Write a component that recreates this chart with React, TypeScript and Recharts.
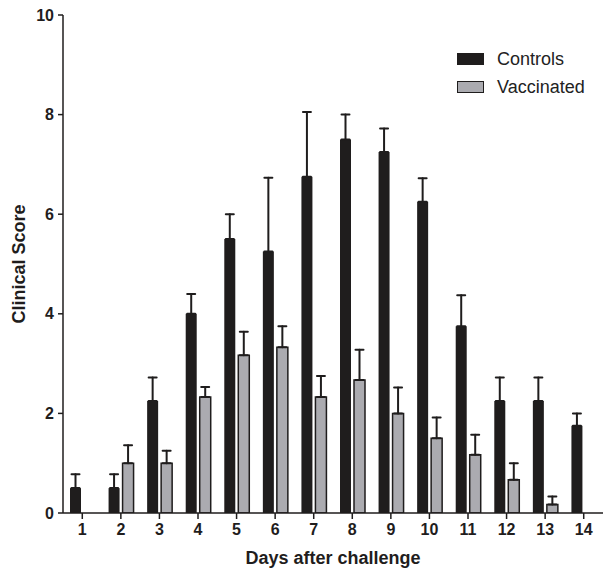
import { BarChart, Bar, XAxis, YAxis, ErrorBar, Label } from 'recharts';

const days = ['1', '2', '3', '4', '5', '6', '7', '8', '9', '10', '11', '12', '13', '14'];
const controls = [0.5, 0.5, 2.25, 4, 5.5, 5.25, 6.75, 7.5, 7.25, 6.25, 3.75, 2.25, 2.25, 1.75];
const controlsErr = [0.28, 0.28, 0.47, 0.4, 0.5, 1.48, 1.3, 0.5, 0.47, 0.47, 0.62, 0.47, 0.47, 0.25];
const vaccinated = [0, 1, 1, 2.33, 3.17, 3.33, 2.33, 2.67, 2, 1.5, 1.17, 0.67, 0.17, 0];
const vaccinatedErr = [null, 0.36, 0.25, 0.2, 0.47, 0.42, 0.42, 0.61, 0.52, 0.42, 0.4, 0.33, 0.16, null];
const yTicks = [0, 2, 4, 6, 8, 10];

const FONT = 'Arial, "Liberation Sans", sans-serif';
const INK = '#1f1d1d';
const GREY = '#ababb0';

const data = days.map((day, i) => ({
  day,
  controls: controls[i],
  cErr: controlsErr[i] == null ? null : [0, controlsErr[i]],
  vaccinated: vaccinated[i],
  vErr: vaccinatedErr[i] == null ? null : [0, vaccinatedErr[i]],
}));

const legendItems = [
  { name: 'Controls', fill: INK },
  { name: 'Vaccinated', fill: GREY },
];

// legend drawn as an overlay so it doesn't eat into the plot area
function ChartLegend() {
  return (
    <div
      style={{
        position: 'absolute',
        left: 457,
        top: 45,
        fontFamily: FONT,
        fontSize: 18,
        color: '#222',
      }}
    >
      {legendItems.map((item) => (
        <div key={item.name} style={{ display: 'flex', alignItems: 'center', height: 28 }}>
          <span
            style={{
              display: 'inline-block',
              width: 27,
              height: 12,
              boxSizing: 'border-box',
              background: item.fill,
              border: `1.5px solid ${INK}`,
              marginRight: 13,
            }}
          />
          {item.name}
        </div>
      ))}
    </div>
  );
}

export default function App() {
  return (
    <div style={{ position: 'absolute', left: 0, top: 0, width: 605, height: 568, background: '#fff' }}>
      <BarChart
        width={605}
        height={568}
        data={data}
        margin={{ top: 15, right: 2, bottom: 0, left: 0 }}
        barSize={11}
        barGap={3}
      >
        <XAxis
          dataKey="day"
          height={55}
          stroke={INK}
          strokeWidth={1.5}
          tickSize={6}
          tickMargin={5}
          tick={{ fill: INK, fontSize: 16, fontWeight: 'bold', fontFamily: FONT }}
        >
          <Label
            content={({ viewBox }: any) => (
              <text
                x={viewBox.x + viewBox.width / 2}
                y={viewBox.y + 51}
                textAnchor="middle"
                fill={INK}
                fontFamily={FONT}
                fontWeight="bold"
                fontSize={18}
              >
                Days after challenge
              </text>
            )}
          />
        </XAxis>
        <YAxis
          width={63}
          domain={[0, 10]}
          ticks={yTicks}
          allowDataOverflow
          stroke={INK}
          strokeWidth={1.5}
          tickSize={5}
          tickMargin={4}
          tick={{ fill: INK, fontSize: 16, fontWeight: 'bold', fontFamily: FONT }}
        >
          <Label
            content={({ viewBox }: any) => {
              const cx = viewBox.x + 19;
              const cy = viewBox.y + viewBox.height / 2;
              return (
                <text
                  x={cx}
                  y={cy}
                  transform={`rotate(-90 ${cx} ${cy})`}
                  textAnchor="middle"
                  dominantBaseline="central"
                  fill={INK}
                  fontFamily={FONT}
                  fontWeight="bold"
                  fontSize={18}
                >
                  Clinical Score
                </text>
              );
            }}
          />
        </YAxis>
        <Bar dataKey="controls" name="Controls" fill={INK} isAnimationActive={false}>
          <ErrorBar
            dataKey="cErr"
            direction="y"
            width={4}
            stroke={INK}
            strokeWidth={2}
            strokeLinecap="round"
            isAnimationActive={false}
          />
        </Bar>
        <Bar
          dataKey="vaccinated"
          name="Vaccinated"
          fill={GREY}
          stroke={INK}
          strokeWidth={1.5}
          isAnimationActive={false}
        >
          <ErrorBar
            dataKey="vErr"
            direction="y"
            width={4}
            stroke={INK}
            strokeWidth={2}
            strokeLinecap="round"
            isAnimationActive={false}
          />
        </Bar>
      </BarChart>
      <ChartLegend />
    </div>
  );
}
